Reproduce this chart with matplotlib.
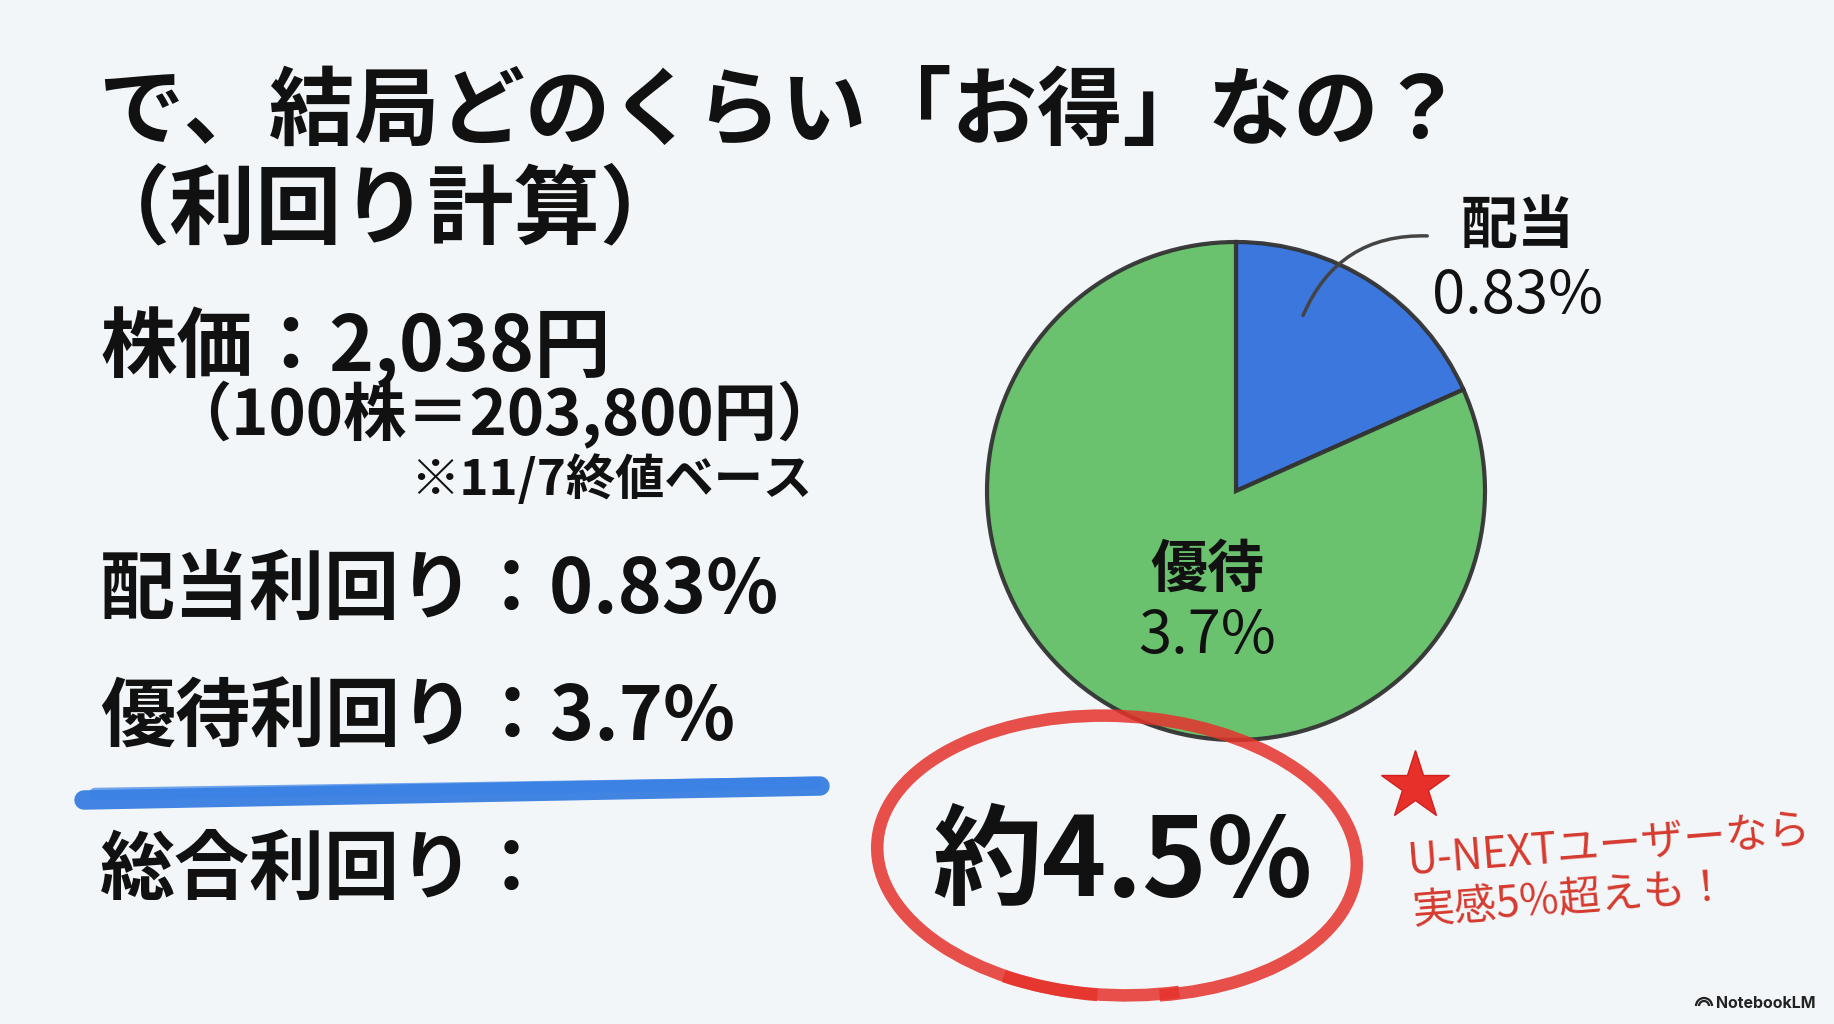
import matplotlib
matplotlib.use("Agg")
import matplotlib.pyplot as plt
from matplotlib.patches import Arc, FancyArrowPatch

plt.rcParams['font.family'] = ['Noto Sans CJK JP', 'DejaVu Sans']

# ---- data ----
categories = ['配当', '優待']
yields = [0.83, 3.7]
yield_labels = ['0.83%', '3.7%']
total_label = '約4.5%'
title_lines = ['で、結局どのくらい「お得」なの？', '（利回り計算）']
price_line = '株価：2,038円'
lot_line = '（100株＝203,800円）'
note_line = '※11/7終値ベース'
div_line = '配当利回り：0.83%'
perk_line = '優待利回り：3.7%'
total_line = '総合利回り：'
memo_lines = ['U-NEXTユーザーなら', '実感5%超えも！']
colors = ['#3170dc', '#63bf67']

W, H = 1834, 1024
fig = plt.figure(figsize=(W / 100, H / 100), dpi=100)
fig.patch.set_facecolor('#f2f6f8')
ax = fig.add_axes([0, 0, 1, 1])


def Y(y):
    return H - y


# pie
wedges, _ = ax.pie(yields, colors=colors, startangle=90, counterclock=False,
                   center=(1236, Y(491)), radius=249, frame=True,
                   wedgeprops=dict(edgecolor='#333333', linewidth=3))
ax.set_xlim(0, W)
ax.set_ylim(0, H)
ax.set_aspect('equal')
ax.axis('off')
for w in wedges:
    w.set_alpha(0.95)

# title
ax.text(98, Y(113), title_lines[0], fontsize=61.5, fontweight='bold', va='center', ha='left', color='#111')
ax.text(84, Y(211), title_lines[1], fontsize=62, fontweight='bold', va='center', ha='left', color='#111')

# left block
ax.text(100, Y(347), price_line, fontsize=55, fontweight='bold', va='center', ha='left', color='#111')
ax.text(168, Y(415), lot_line, fontsize=45.5, fontweight='bold', va='center', ha='left', color='#111')
ax.text(812, Y(480), note_line, fontsize=35.5, fontweight='bold', va='center', ha='right', color='#111')
ax.text(100, Y(591), div_line, fontsize=54, fontweight='bold', va='center', ha='left', color='#111')
ax.text(100, Y(719), perk_line, fontsize=54, fontweight='bold', va='center', ha='left', color='#111')
ax.text(100, Y(871), total_line, fontsize=54, fontweight='bold', va='center', ha='left', color='#111')

# blue marker underline
ax.plot([84, 820], [Y(800), Y(786)], color='#2f78e0', lw=14, solid_capstyle='round', alpha=0.9, zorder=3)
ax.plot([95, 815], [Y(794), Y(783)], color='#3a82e6', lw=9, solid_capstyle='round', alpha=0.7, zorder=3)

# pie labels
ax.text(1518, Y(226), categories[0], fontsize=41, fontweight='bold', va='center', ha='center', color='#111')
ax.text(1518, Y(296), yield_labels[0], fontsize=43, va='center', ha='center', color='#111')
ax.text(1207, Y(570), categories[1], fontsize=41, fontweight='bold', va='center', ha='center', color='#111')
ax.text(1207, Y(637), yield_labels[1], fontsize=43, va='center', ha='center', color='#111')

# leader line
leader = FancyArrowPatch((1430, Y(236)), (1302, Y(318)), arrowstyle='-',
                         connectionstyle='arc3,rad=0.35', color='#444444', lw=2.5, zorder=5)
ax.add_patch(leader)

# red circle
ax.add_patch(Arc((1117, Y(856)), 480, 280, angle=-3, theta1=-70, theta2=265,
                 color='#e5322b', lw=9, alpha=0.85, zorder=6))
ax.add_patch(Arc((1112, Y(860)), 470, 270, angle=-3, theta1=230, theta2=300,
                 color='#e5322b', lw=9, alpha=0.85, zorder=6))

ax.text(1122, Y(865), total_label, fontsize=79, fontweight='bold', va='center', ha='center', color='#111', zorder=7)

# star + memo
ax.plot([1415], [Y(786)], marker='*', markersize=52, color='#e8302a', markeredgecolor='#d02020', zorder=7)
ax.text(1408, Y(862), memo_lines[0], fontsize=30.5, va='center', ha='left', color='#d63a2f',
        rotation=4.5, rotation_mode='anchor')
ax.text(1413, Y(912), memo_lines[1], fontsize=30.5, va='center', ha='left', color='#d63a2f',
        rotation=4.5, rotation_mode='anchor')

# NotebookLM mark
for r in (5, 8):
    ax.add_patch(Arc((1704, Y(1006)), 2 * r, 2 * r, theta1=0, theta2=180, color='#222', lw=1.6))
ax.text(1716, Y(1004), 'NotebookLM', fontsize=11.5, fontweight='bold', va='center', ha='left', color='#222',
        family=['Inter', 'DejaVu Sans'])

fig.savefig('out.png', dpi=100, facecolor=fig.get_facecolor())
